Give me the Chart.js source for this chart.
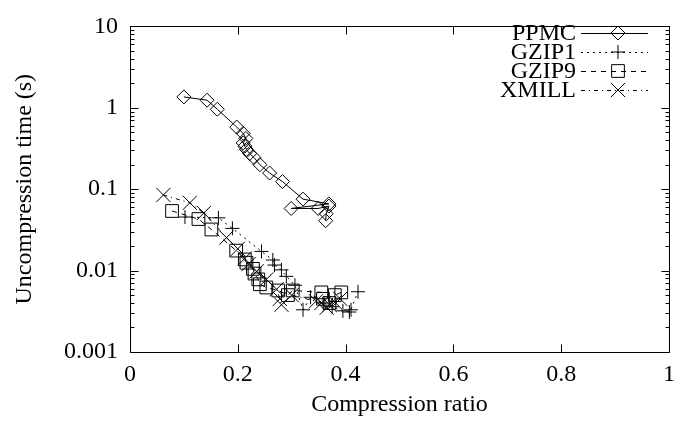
<!DOCTYPE html>
<html>
<head>
<meta charset="utf-8">
<script src="https://cdn.jsdelivr.net/npm/chart.js@4.4.1/dist/chart.umd.min.js"></script>
<style>
  html, body { margin: 0; padding: 0; background: #fff; }
  #wrap { width: 683px; height: 423px; }
  #probe { position: absolute; left: -1000px; top: 0; font: 24px "Liberation Serif"; }
</style>
</head>
<body>
<div id="probe">PPMC 0.001 Compression ratio</div>
<div id="wrap"><canvas id="c" width="683" height="423"></canvas></div>
<script>
// values (x = compression ratio, y = seconds)
const ppmcX = [0.100, 0.143, 0.162, 0.198, 0.210, 0.215, 0.210, 0.213, 0.216, 0.222, 0.230, 0.241, 0.259, 0.283, 0.321, 0.369, 0.299, 0.349, 0.369, 0.364, 0.363];
const ppmcY = [1.36, 1.24, 0.96, 0.58, 0.485, 0.42, 0.37, 0.338, 0.308, 0.274, 0.245, 0.200, 0.158, 0.124, 0.0755, 0.066, 0.058, 0.058, 0.062, 0.050, 0.041];

const gzip1X = [0.102, 0.164, 0.190, 0.244, 0.265, 0.268, 0.281, 0.290, 0.306, 0.321, 0.335, 0.360, 0.375, 0.395, 0.407, 0.410, 0.423];
const gzip1Y = [0.0455, 0.0445, 0.033, 0.0172, 0.0135, 0.0117, 0.0102, 0.0085, 0.0066, 0.0033, 0.0047, 0.0040, 0.0036, 0.0032, 0.0031, 0.0033, 0.0055];

const gzip9X = [0.078, 0.127, 0.151, 0.197, 0.213, 0.216, 0.228, 0.231, 0.238, 0.241, 0.253, 0.275, 0.293, 0.302, 0.355, 0.358, 0.370, 0.380, 0.392];
const gzip9Y = [0.054, 0.043, 0.032, 0.0176, 0.0137, 0.0125, 0.0105, 0.0092, 0.0078, 0.0068, 0.0062, 0.0057, 0.0050, 0.0057, 0.0054, 0.0045, 0.0040, 0.0050, 0.0054];

const xmillX = [0.062, 0.111, 0.137, 0.179, 0.200, 0.213, 0.220, 0.235, 0.253, 0.272, 0.278, 0.281, 0.300, 0.345, 0.355, 0.365, 0.370, 0.380, 0.390];
const xmillY = [0.085, 0.068, 0.051, 0.0254, 0.0185, 0.0141, 0.012, 0.0098, 0.0078, 0.0059, 0.0045, 0.0038, 0.0050, 0.0042, 0.0040, 0.0035, 0.0038, 0.0041, 0.0045];

const seriesNames = ["PPMC", "GZIP1", "GZIP9", "XMILL"];
const xTicks = [0, 0.2, 0.4, 0.6, 0.8, 1];
const xTickLabels = ["0", "0.2", "0.4", "0.6", "0.8", "1"];
const yTicks = [0.001, 0.01, 0.1, 1, 10];
const yTickLabels = ["0.001", "0.01", "0.1", "1", "10"];

const FONT = '"Liberation Serif", "Times New Roman", Times, serif';
const FS = 24;
const pts = (xs, ys) => xs.map((x, i) => ({ x, y: ys[i] }));

const styles = [
    { pointStyle: "rectRot", radius: 7, dash: [] },
    { pointStyle: "cross", radius: 7, dash: [2, 4] },
    { pointStyle: "rect", radius: 9, dash: [5, 5] },
    { pointStyle: "crossRot", radius: 10, dash: [4, 4, 1, 4] }
];
const data = [pts(ppmcX, ppmcY), pts(gzip1X, gzip1Y), pts(gzip9X, gzip9Y), pts(xmillX, xmillY)];

// box, inward ticks on all four sides, and the gnuplot-style legend
const frame = {
    id: "frame",
    afterDraw(chart) {
        const { ctx, chartArea: a, scales: { x, y } } = chart;
        ctx.save();
        ctx.strokeStyle = "#000";
        ctx.lineWidth = 1;
        ctx.setLineDash([]);
        ctx.beginPath();
        const L = Math.round(a.left) + 0.5, R = Math.round(a.right) + 0.5;
        const T = Math.round(a.top) + 0.5, B = Math.round(a.bottom) + 0.5;
        ctx.rect(L, T, R - L, B - T);
        xTicks.forEach((v) => {
            const px = Math.round(x.getPixelForValue(v)) + 0.5;
            ctx.moveTo(px, B); ctx.lineTo(px, B - 8);
            ctx.moveTo(px, T); ctx.lineTo(px, T + 8);
        });
        for (let d = -3; d <= 1; d++) {
            for (let m = 1; m <= 9; m++) {
                const v = m * Math.pow(10, d);
                if (v > 10 + 1e-9) continue;
                const py = Math.round(y.getPixelForValue(v)) + 0.5;
                const len = m === 1 ? 8 : 4;
                ctx.moveTo(L, py); ctx.lineTo(L + len, py);
                ctx.moveTo(R, py); ctx.lineTo(R - len, py);
            }
        }
        ctx.stroke();

        // legend
        ctx.font = FS + "px " + FONT;
        ctx.textAlign = "right";
        ctx.textBaseline = "middle";
        seriesNames.forEach((name, i) => {
            const cy = 33 + i * 19;
            ctx.fillStyle = "#000";
            ctx.fillText(name, 576, cy + 1);
            const s = styles[i];
            ctx.beginPath();
            ctx.setLineDash(s.dash);
            ctx.moveTo(581, cy + 0.5); ctx.lineTo(648, cy + 0.5);
            ctx.stroke();
            ctx.setLineDash([]);
            ctx.fillStyle = "rgba(0,0,0,0)";
            Chart.helpers.drawPoint(ctx, { pointStyle: s.pointStyle, radius: s.radius, rotation: 0, borderWidth: 1 }, 618, cy);
        });
        ctx.restore();
    }
};

function draw() {
    new Chart(document.getElementById("c"), {
        type: "scatter",
        data: {
            datasets: data.map((d, i) => ({
                label: seriesNames[i],
                data: d,
                showLine: true,
                borderColor: "#000",
                borderWidth: 1,
                borderDash: styles[i].dash,
                backgroundColor: "rgba(0,0,0,0)",
                pointStyle: styles[i].pointStyle,
                pointRadius: styles[i].radius,
                pointBorderColor: "#000",
                pointBorderWidth: 1,
                pointBackgroundColor: "rgba(0,0,0,0)",
                tension: 0
            }))
        },
        options: {
            responsive: false,
            devicePixelRatio: 1,
            animation: false,
            layout: { padding: { left: 10, right: 13, top: 14, bottom: 4 } },
            plugins: { legend: { display: false }, tooltip: { enabled: false } },
            scales: {
                x: {
                    type: "linear", min: 0, max: 1,
                    afterBuildTicks: (s) => { s.ticks = xTicks.map((v) => ({ value: v })); },
                    afterFit: (s) => { s.height = 67; },
                    grid: { display: false, drawTicks: false },
                    border: { display: false },
                    ticks: {
                        padding: 8, color: "#000", font: { family: FONT, size: FS },
                        callback: (v) => xTickLabels[xTicks.indexOf(v)]
                    },
                    title: { display: true, text: "Compression ratio", color: "#000", font: { family: FONT, size: FS }, padding: { top: 0, bottom: 0 } }
                },
                y: {
                    type: "logarithmic", min: 0.001, max: 10,
                    afterBuildTicks: (s) => { s.ticks = yTicks.map((v) => ({ value: v })); },
                    afterFit: (s) => { s.width = 120; },
                    grid: { display: false, drawTicks: false },
                    border: { display: false },
                    ticks: {
                        padding: 12, color: "#000", font: { family: FONT, size: FS },
                        callback: (v) => yTickLabels[yTicks.findIndex((t) => Math.abs(t - v) < t * 1e-6)]
                    },
                    title: { display: true, text: "Uncompression time (s)", color: "#000", font: { family: FONT, size: FS }, padding: { top: 0, bottom: 0 } }
                }
            }
        },
        plugins: [frame]
    });
}

if (document.fonts && document.fonts.load) {
    document.fonts.load('24px "Liberation Serif"').then(draw, draw);
} else {
    draw();
}
</script>
</body>
</html>
